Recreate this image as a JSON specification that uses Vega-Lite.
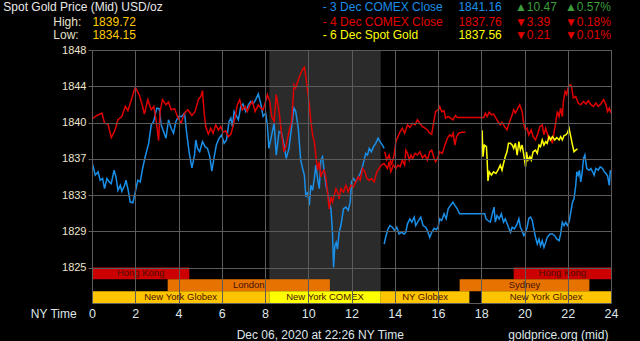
{
"$schema":"https://vega.github.io/schema/vega-lite/v6.json",
"width":519,"height":253,
"autosize":{"type":"none"},
"padding":{"left":92,"top":50,"right":29,"bottom":38},
"background":"#000000",
"config":{"view":{"stroke":"#5c5c5c","fill":"#000000"},"text":{"font":"Liberation Sans"},"axis":{"labelFont":"Liberation Sans"}},
"datasets":{
"sessions":[
{"session":"Hong Kong","group":"Hong Kong","start":0,"end":4.5},
{"session":"Hong Kong","group":"Hong Kong","start":19.5,"end":24},
{"session":"London","group":"London / Sydney","start":3.5,"end":11},
{"session":"Sydney","group":"London / Sydney","start":17,"end":23},
{"session":"New York Globex","group":"New York","start":0,"end":8.2},
{"session":"New York COMEX","group":"New York","start":8.2,"end":13.35},
{"session":"NY Globex","group":"New York","start":13.35,"end":17.45},
{"session":"New York Globex","group":"New York","start":18,"end":24}
],
"legend":[
{"series":"3 Dec COMEX Close","label":"- 3 Dec COMEX Close","close":"1841.16","change":"▲10.47","pct":"▲0.57%","dir":"up"},
{"series":"4 Dec COMEX Close","label":"- 4 Dec COMEX Close","close":"1837.76","change":"▼3.39","pct":"▼0.18%","dir":"down"},
{"series":"6 Dec Spot Gold","label":"- 6 Dec Spot Gold","close":"1837.56","change":"▼0.21","pct":"▼0.01%","dir":"down"}
],
"stats":[{"stat":"High:","value":"1839.72"},{"stat":"Low:","value":"1834.15"}],
"prices":[
{"series":"3 Dec COMEX Close","seg":"3a","hour":0.03,"price":1835.9},
{"series":"3 Dec COMEX Close","seg":"3a","hour":0.15,"price":1834.76},
{"series":"3 Dec COMEX Close","seg":"3a","hour":0.28,"price":1835.12},
{"series":"3 Dec COMEX Close","seg":"3a","hour":0.38,"price":1834.23},
{"series":"3 Dec COMEX Close","seg":"3a","hour":0.49,"price":1834.4},
{"series":"3 Dec COMEX Close","seg":"3a","hour":0.58,"price":1833.34},
{"series":"3 Dec COMEX Close","seg":"3a","hour":0.69,"price":1834.4},
{"series":"3 Dec COMEX Close","seg":"3a","hour":0.8,"price":1834.05},
{"series":"3 Dec COMEX Close","seg":"3a","hour":0.89,"price":1833.87},
{"series":"3 Dec COMEX Close","seg":"3a","hour":1.02,"price":1835.3},
{"series":"3 Dec COMEX Close","seg":"3a","hour":1.11,"price":1834.58},
{"series":"3 Dec COMEX Close","seg":"3a","hour":1.2,"price":1833.16},
{"series":"3 Dec COMEX Close","seg":"3a","hour":1.31,"price":1833.7},
{"series":"3 Dec COMEX Close","seg":"3a","hour":1.38,"price":1833.06},
{"series":"3 Dec COMEX Close","seg":"3a","hour":1.51,"price":1833.7},
{"series":"3 Dec COMEX Close","seg":"3a","hour":1.57,"price":1834.23},
{"series":"3 Dec COMEX Close","seg":"3a","hour":1.66,"price":1833.34},
{"series":"3 Dec COMEX Close","seg":"3a","hour":1.77,"price":1831.92},
{"series":"3 Dec COMEX Close","seg":"3a","hour":1.89,"price":1831.85},
{"series":"3 Dec COMEX Close","seg":"3a","hour":2.0,"price":1832.99},
{"series":"3 Dec COMEX Close","seg":"3a","hour":2.12,"price":1834.23},
{"series":"3 Dec COMEX Close","seg":"3a","hour":2.23,"price":1834.05},
{"series":"3 Dec COMEX Close","seg":"3a","hour":2.34,"price":1835.47},
{"series":"3 Dec COMEX Close","seg":"3a","hour":2.46,"price":1836.71},
{"series":"3 Dec COMEX Close","seg":"3a","hour":2.62,"price":1838.13},
{"series":"3 Dec COMEX Close","seg":"3a","hour":2.74,"price":1840.09},
{"series":"3 Dec COMEX Close","seg":"3a","hour":2.85,"price":1840.44},
{"series":"3 Dec COMEX Close","seg":"3a","hour":2.92,"price":1841.15},
{"series":"3 Dec COMEX Close","seg":"3a","hour":3.0,"price":1841.86},
{"series":"3 Dec COMEX Close","seg":"3a","hour":3.11,"price":1841.79},
{"series":"3 Dec COMEX Close","seg":"3a","hour":3.2,"price":1840.09},
{"series":"3 Dec COMEX Close","seg":"3a","hour":3.31,"price":1839.38},
{"series":"3 Dec COMEX Close","seg":"3a","hour":3.42,"price":1838.67},
{"series":"3 Dec COMEX Close","seg":"3a","hour":3.54,"price":1840.62},
{"series":"3 Dec COMEX Close","seg":"3a","hour":3.66,"price":1839.73},
{"series":"3 Dec COMEX Close","seg":"3a","hour":3.77,"price":1839.2},
{"series":"3 Dec COMEX Close","seg":"3a","hour":3.88,"price":1840.44},
{"series":"3 Dec COMEX Close","seg":"3a","hour":4.0,"price":1840.97},
{"series":"3 Dec COMEX Close","seg":"3a","hour":4.15,"price":1840.97},
{"series":"3 Dec COMEX Close","seg":"3a","hour":4.28,"price":1841.33},
{"series":"3 Dec COMEX Close","seg":"3a","hour":4.38,"price":1839.2},
{"series":"3 Dec COMEX Close","seg":"3a","hour":4.49,"price":1837.24},
{"series":"3 Dec COMEX Close","seg":"3a","hour":4.62,"price":1835.54},
{"series":"3 Dec COMEX Close","seg":"3a","hour":4.74,"price":1836.89},
{"series":"3 Dec COMEX Close","seg":"3a","hour":4.8,"price":1838.49},
{"series":"3 Dec COMEX Close","seg":"3a","hour":4.88,"price":1837.6},
{"series":"3 Dec COMEX Close","seg":"3a","hour":4.98,"price":1837.24},
{"series":"3 Dec COMEX Close","seg":"3a","hour":5.11,"price":1838.31},
{"series":"3 Dec COMEX Close","seg":"3a","hour":5.23,"price":1837.78},
{"series":"3 Dec COMEX Close","seg":"3a","hour":5.34,"price":1837.6},
{"series":"3 Dec COMEX Close","seg":"3a","hour":5.45,"price":1836.71},
{"series":"3 Dec COMEX Close","seg":"3a","hour":5.54,"price":1835.19},
{"series":"3 Dec COMEX Close","seg":"3a","hour":5.65,"price":1836.71},
{"series":"3 Dec COMEX Close","seg":"3a","hour":5.75,"price":1837.95},
{"series":"3 Dec COMEX Close","seg":"3a","hour":5.88,"price":1838.67},
{"series":"3 Dec COMEX Close","seg":"3a","hour":6.0,"price":1839.02},
{"series":"3 Dec COMEX Close","seg":"3a","hour":6.11,"price":1838.13},
{"series":"3 Dec COMEX Close","seg":"3a","hour":6.22,"price":1838.49},
{"series":"3 Dec COMEX Close","seg":"3a","hour":6.34,"price":1840.44},
{"series":"3 Dec COMEX Close","seg":"3a","hour":6.42,"price":1840.8},
{"series":"3 Dec COMEX Close","seg":"3a","hour":6.49,"price":1839.9},
{"series":"3 Dec COMEX Close","seg":"3a","hour":6.57,"price":1841.5},
{"series":"3 Dec COMEX Close","seg":"3a","hour":6.65,"price":1841.15},
{"series":"3 Dec COMEX Close","seg":"3a","hour":6.77,"price":1840.62},
{"series":"3 Dec COMEX Close","seg":"3a","hour":6.88,"price":1842.04},
{"series":"3 Dec COMEX Close","seg":"3a","hour":6.98,"price":1842.29},
{"series":"3 Dec COMEX Close","seg":"3a","hour":7.11,"price":1841.5},
{"series":"3 Dec COMEX Close","seg":"3a","hour":7.23,"price":1842.2},
{"series":"3 Dec COMEX Close","seg":"3a","hour":7.34,"price":1842.57},
{"series":"3 Dec COMEX Close","seg":"3a","hour":7.45,"price":1842.29},
{"series":"3 Dec COMEX Close","seg":"3a","hour":7.57,"price":1842.75},
{"series":"3 Dec COMEX Close","seg":"3a","hour":7.69,"price":1843.35},
{"series":"3 Dec COMEX Close","seg":"3a","hour":7.8,"price":1842.39},
{"series":"3 Dec COMEX Close","seg":"3a","hour":7.91,"price":1840.97},
{"series":"3 Dec COMEX Close","seg":"3a","hour":8.03,"price":1841.33},
{"series":"3 Dec COMEX Close","seg":"3a","hour":8.11,"price":1840.09},
{"series":"3 Dec COMEX Close","seg":"3a","hour":8.18,"price":1837.6},
{"series":"3 Dec COMEX Close","seg":"3a","hour":8.31,"price":1839.02},
{"series":"3 Dec COMEX Close","seg":"3a","hour":8.42,"price":1840.26},
{"series":"3 Dec COMEX Close","seg":"3a","hour":8.52,"price":1836.89},
{"series":"3 Dec COMEX Close","seg":"3a","hour":8.65,"price":1839.38},
{"series":"3 Dec COMEX Close","seg":"3a","hour":8.77,"price":1839.2},
{"series":"3 Dec COMEX Close","seg":"3a","hour":8.88,"price":1837.95},
{"series":"3 Dec COMEX Close","seg":"3a","hour":8.98,"price":1836.53},
{"series":"3 Dec COMEX Close","seg":"3a","hour":9.11,"price":1837.6},
{"series":"3 Dec COMEX Close","seg":"3a","hour":9.23,"price":1839.9},
{"series":"3 Dec COMEX Close","seg":"3a","hour":9.34,"price":1841.86},
{"series":"3 Dec COMEX Close","seg":"3a","hour":9.42,"price":1841.5},
{"series":"3 Dec COMEX Close","seg":"3a","hour":9.54,"price":1839.73},
{"series":"3 Dec COMEX Close","seg":"3a","hour":9.65,"price":1836.36},
{"series":"3 Dec COMEX Close","seg":"3a","hour":9.74,"price":1835.47},
{"series":"3 Dec COMEX Close","seg":"3a","hour":9.82,"price":1834.76},
{"series":"3 Dec COMEX Close","seg":"3a","hour":9.89,"price":1832.45},
{"series":"3 Dec COMEX Close","seg":"3a","hour":9.97,"price":1832.99},
{"series":"3 Dec COMEX Close","seg":"3a","hour":10.05,"price":1831.57},
{"series":"3 Dec COMEX Close","seg":"3a","hour":10.12,"price":1833.7},
{"series":"3 Dec COMEX Close","seg":"3a","hour":10.2,"price":1833.16},
{"series":"3 Dec COMEX Close","seg":"3a","hour":10.28,"price":1834.4},
{"series":"3 Dec COMEX Close","seg":"3a","hour":10.35,"price":1835.83},
{"series":"3 Dec COMEX Close","seg":"3a","hour":10.43,"price":1834.4},
{"series":"3 Dec COMEX Close","seg":"3a","hour":10.51,"price":1833.34},
{"series":"3 Dec COMEX Close","seg":"3a","hour":10.58,"price":1836.36},
{"series":"3 Dec COMEX Close","seg":"3a","hour":10.66,"price":1836.71},
{"series":"3 Dec COMEX Close","seg":"3a","hour":10.74,"price":1835.12},
{"series":"3 Dec COMEX Close","seg":"3a","hour":10.82,"price":1833.7},
{"series":"3 Dec COMEX Close","seg":"3a","hour":10.89,"price":1832.99},
{"series":"3 Dec COMEX Close","seg":"3a","hour":10.97,"price":1831.92},
{"series":"3 Dec COMEX Close","seg":"3a","hour":11.05,"price":1831.21},
{"series":"3 Dec COMEX Close","seg":"3a","hour":11.12,"price":1828.73},
{"series":"3 Dec COMEX Close","seg":"3a","hour":11.17,"price":1825.0},
{"series":"3 Dec COMEX Close","seg":"3a","hour":11.23,"price":1827.31},
{"series":"3 Dec COMEX Close","seg":"3a","hour":11.29,"price":1827.66},
{"series":"3 Dec COMEX Close","seg":"3a","hour":11.35,"price":1826.95},
{"series":"3 Dec COMEX Close","seg":"3a","hour":11.43,"price":1828.73},
{"series":"3 Dec COMEX Close","seg":"3a","hour":11.51,"price":1829.44},
{"series":"3 Dec COMEX Close","seg":"3a","hour":11.63,"price":1831.21},
{"series":"3 Dec COMEX Close","seg":"3a","hour":11.74,"price":1831.39},
{"series":"3 Dec COMEX Close","seg":"3a","hour":11.85,"price":1831.04},
{"series":"3 Dec COMEX Close","seg":"3a","hour":11.94,"price":1831.92},
{"series":"3 Dec COMEX Close","seg":"3a","hour":12.0,"price":1834.05},
{"series":"3 Dec COMEX Close","seg":"3a","hour":12.09,"price":1834.4},
{"series":"3 Dec COMEX Close","seg":"3a","hour":12.2,"price":1834.05},
{"series":"3 Dec COMEX Close","seg":"3a","hour":12.31,"price":1834.58},
{"series":"3 Dec COMEX Close","seg":"3a","hour":12.4,"price":1834.94},
{"series":"3 Dec COMEX Close","seg":"3a","hour":12.51,"price":1835.65},
{"series":"3 Dec COMEX Close","seg":"3a","hour":12.58,"price":1836.36},
{"series":"3 Dec COMEX Close","seg":"3a","hour":12.66,"price":1837.07},
{"series":"3 Dec COMEX Close","seg":"3a","hour":12.74,"price":1836.89},
{"series":"3 Dec COMEX Close","seg":"3a","hour":12.82,"price":1837.6},
{"series":"3 Dec COMEX Close","seg":"3a","hour":12.92,"price":1837.24},
{"series":"3 Dec COMEX Close","seg":"3a","hour":13.02,"price":1837.78},
{"series":"3 Dec COMEX Close","seg":"3a","hour":13.12,"price":1838.13},
{"series":"3 Dec COMEX Close","seg":"3a","hour":13.23,"price":1838.67},
{"series":"3 Dec COMEX Close","seg":"3a","hour":13.32,"price":1838.31},
{"series":"3 Dec COMEX Close","seg":"3a","hour":13.43,"price":1837.95},
{"series":"3 Dec COMEX Close","seg":"3a","hour":13.51,"price":1837.6},
{"series":"3 Dec COMEX Close","seg":"3b","hour":13.51,"price":1827.49},
{"series":"3 Dec COMEX Close","seg":"3b","hour":13.58,"price":1828.2},
{"series":"3 Dec COMEX Close","seg":"3b","hour":13.69,"price":1829.09},
{"series":"3 Dec COMEX Close","seg":"3b","hour":13.78,"price":1829.44},
{"series":"3 Dec COMEX Close","seg":"3b","hour":13.89,"price":1829.26},
{"series":"3 Dec COMEX Close","seg":"3b","hour":14.0,"price":1828.9},
{"series":"3 Dec COMEX Close","seg":"3b","hour":14.09,"price":1829.26},
{"series":"3 Dec COMEX Close","seg":"3b","hour":14.2,"price":1828.55},
{"series":"3 Dec COMEX Close","seg":"3b","hour":14.31,"price":1828.73},
{"series":"3 Dec COMEX Close","seg":"3b","hour":14.43,"price":1828.55},
{"series":"3 Dec COMEX Close","seg":"3b","hour":14.51,"price":1828.73},
{"series":"3 Dec COMEX Close","seg":"3b","hour":14.59,"price":1829.62},
{"series":"3 Dec COMEX Close","seg":"3b","hour":14.7,"price":1830.15},
{"series":"3 Dec COMEX Close","seg":"3b","hour":14.79,"price":1829.8},
{"series":"3 Dec COMEX Close","seg":"3b","hour":14.9,"price":1830.33},
{"series":"3 Dec COMEX Close","seg":"3b","hour":14.97,"price":1829.44},
{"series":"3 Dec COMEX Close","seg":"3b","hour":15.1,"price":1829.97},
{"series":"3 Dec COMEX Close","seg":"3b","hour":15.2,"price":1830.33},
{"series":"3 Dec COMEX Close","seg":"3b","hour":15.31,"price":1829.44},
{"series":"3 Dec COMEX Close","seg":"3b","hour":15.43,"price":1829.26},
{"series":"3 Dec COMEX Close","seg":"3b","hour":15.51,"price":1828.9},
{"series":"3 Dec COMEX Close","seg":"3b","hour":15.62,"price":1828.2},
{"series":"3 Dec COMEX Close","seg":"3b","hour":15.71,"price":1828.73},
{"series":"3 Dec COMEX Close","seg":"3b","hour":15.82,"price":1829.15},
{"series":"3 Dec COMEX Close","seg":"3b","hour":15.92,"price":1829.0},
{"series":"3 Dec COMEX Close","seg":"3b","hour":16.0,"price":1829.26},
{"series":"3 Dec COMEX Close","seg":"3b","hour":16.08,"price":1830.15},
{"series":"3 Dec COMEX Close","seg":"3b","hour":16.17,"price":1829.97},
{"series":"3 Dec COMEX Close","seg":"3b","hour":16.28,"price":1830.68},
{"series":"3 Dec COMEX Close","seg":"3b","hour":16.38,"price":1830.15},
{"series":"3 Dec COMEX Close","seg":"3b","hour":16.47,"price":1831.21},
{"series":"3 Dec COMEX Close","seg":"3b","hour":16.58,"price":1831.57},
{"series":"3 Dec COMEX Close","seg":"3b","hour":16.69,"price":1831.92},
{"series":"3 Dec COMEX Close","seg":"3b","hour":16.78,"price":1831.57},
{"series":"3 Dec COMEX Close","seg":"3b","hour":16.89,"price":1831.21},
{"series":"3 Dec COMEX Close","seg":"3b","hour":17.0,"price":1830.68},
{"series":"3 Dec COMEX Close","seg":"3b","hour":18.16,"price":1830.68},
{"series":"3 Dec COMEX Close","seg":"3b","hour":18.22,"price":1830.15},
{"series":"3 Dec COMEX Close","seg":"3b","hour":18.31,"price":1829.97},
{"series":"3 Dec COMEX Close","seg":"3b","hour":18.42,"price":1829.8},
{"series":"3 Dec COMEX Close","seg":"3b","hour":18.53,"price":1830.86},
{"series":"3 Dec COMEX Close","seg":"3b","hour":18.59,"price":1831.39},
{"series":"3 Dec COMEX Close","seg":"3b","hour":18.65,"price":1829.8},
{"series":"3 Dec COMEX Close","seg":"3b","hour":18.73,"price":1830.5},
{"series":"3 Dec COMEX Close","seg":"3b","hour":18.83,"price":1830.15},
{"series":"3 Dec COMEX Close","seg":"3b","hour":18.93,"price":1830.68},
{"series":"3 Dec COMEX Close","seg":"3b","hour":19.03,"price":1829.8},
{"series":"3 Dec COMEX Close","seg":"3b","hour":19.11,"price":1830.15},
{"series":"3 Dec COMEX Close","seg":"3b","hour":19.23,"price":1829.44},
{"series":"3 Dec COMEX Close","seg":"3b","hour":19.35,"price":1828.73},
{"series":"3 Dec COMEX Close","seg":"3b","hour":19.43,"price":1829.26},
{"series":"3 Dec COMEX Close","seg":"3b","hour":19.53,"price":1829.09},
{"series":"3 Dec COMEX Close","seg":"3b","hour":19.66,"price":1829.62},
{"series":"3 Dec COMEX Close","seg":"3b","hour":19.74,"price":1830.15},
{"series":"3 Dec COMEX Close","seg":"3b","hour":19.81,"price":1829.26},
{"series":"3 Dec COMEX Close","seg":"3b","hour":19.89,"price":1828.9},
{"series":"3 Dec COMEX Close","seg":"3b","hour":19.97,"price":1828.37},
{"series":"3 Dec COMEX Close","seg":"3b","hour":20.05,"price":1828.73},
{"series":"3 Dec COMEX Close","seg":"3b","hour":20.12,"price":1829.26},
{"series":"3 Dec COMEX Close","seg":"3b","hour":20.2,"price":1830.22},
{"series":"3 Dec COMEX Close","seg":"3b","hour":20.28,"price":1830.33},
{"series":"3 Dec COMEX Close","seg":"3b","hour":20.36,"price":1829.97},
{"series":"3 Dec COMEX Close","seg":"3b","hour":20.43,"price":1829.09},
{"series":"3 Dec COMEX Close","seg":"3b","hour":20.51,"price":1828.2},
{"series":"3 Dec COMEX Close","seg":"3b","hour":20.59,"price":1827.49},
{"series":"3 Dec COMEX Close","seg":"3b","hour":20.67,"price":1828.02},
{"series":"3 Dec COMEX Close","seg":"3b","hour":20.74,"price":1827.31},
{"series":"3 Dec COMEX Close","seg":"3b","hour":20.82,"price":1827.84},
{"series":"3 Dec COMEX Close","seg":"3b","hour":20.9,"price":1827.13},
{"series":"3 Dec COMEX Close","seg":"3b","hour":20.98,"price":1827.66},
{"series":"3 Dec COMEX Close","seg":"3b","hour":21.05,"price":1828.2},
{"series":"3 Dec COMEX Close","seg":"3b","hour":21.18,"price":1828.55},
{"series":"3 Dec COMEX Close","seg":"3b","hour":21.29,"price":1828.55},
{"series":"3 Dec COMEX Close","seg":"3b","hour":21.4,"price":1828.37},
{"series":"3 Dec COMEX Close","seg":"3b","hour":21.49,"price":1828.02},
{"series":"3 Dec COMEX Close","seg":"3b","hour":21.6,"price":1827.84},
{"series":"3 Dec COMEX Close","seg":"3b","hour":21.67,"price":1828.55},
{"series":"3 Dec COMEX Close","seg":"3b","hour":21.75,"price":1829.8},
{"series":"3 Dec COMEX Close","seg":"3b","hour":21.83,"price":1829.44},
{"series":"3 Dec COMEX Close","seg":"3b","hour":21.91,"price":1829.8},
{"series":"3 Dec COMEX Close","seg":"3b","hour":21.98,"price":1829.44},
{"series":"3 Dec COMEX Close","seg":"3b","hour":22.06,"price":1829.8},
{"series":"3 Dec COMEX Close","seg":"3b","hour":22.14,"price":1830.86},
{"series":"3 Dec COMEX Close","seg":"3b","hour":22.22,"price":1831.92},
{"series":"3 Dec COMEX Close","seg":"3b","hour":22.29,"price":1832.27},
{"series":"3 Dec COMEX Close","seg":"3b","hour":22.37,"price":1833.7},
{"series":"3 Dec COMEX Close","seg":"3b","hour":22.42,"price":1835.12},
{"series":"3 Dec COMEX Close","seg":"3b","hour":22.48,"price":1834.76},
{"series":"3 Dec COMEX Close","seg":"3b","hour":22.54,"price":1835.29},
{"series":"3 Dec COMEX Close","seg":"3b","hour":22.6,"price":1834.05},
{"series":"3 Dec COMEX Close","seg":"3b","hour":22.67,"price":1835.12},
{"series":"3 Dec COMEX Close","seg":"3b","hour":22.73,"price":1836.53},
{"series":"3 Dec COMEX Close","seg":"3b","hour":22.79,"price":1836.89},
{"series":"3 Dec COMEX Close","seg":"3b","hour":22.88,"price":1835.47},
{"series":"3 Dec COMEX Close","seg":"3b","hour":22.99,"price":1835.29},
{"series":"3 Dec COMEX Close","seg":"3b","hour":23.07,"price":1835.47},
{"series":"3 Dec COMEX Close","seg":"3b","hour":23.15,"price":1835.12},
{"series":"3 Dec COMEX Close","seg":"3b","hour":23.22,"price":1834.76},
{"series":"3 Dec COMEX Close","seg":"3b","hour":23.3,"price":1835.47},
{"series":"3 Dec COMEX Close","seg":"3b","hour":23.41,"price":1835.29},
{"series":"3 Dec COMEX Close","seg":"3b","hour":23.5,"price":1835.65},
{"series":"3 Dec COMEX Close","seg":"3b","hour":23.61,"price":1835.47},
{"series":"3 Dec COMEX Close","seg":"3b","hour":23.69,"price":1835.12},
{"series":"3 Dec COMEX Close","seg":"3b","hour":23.77,"price":1834.94},
{"series":"3 Dec COMEX Close","seg":"3b","hour":23.84,"price":1834.69},
{"series":"3 Dec COMEX Close","seg":"3b","hour":23.92,"price":1833.7},
{"series":"3 Dec COMEX Close","seg":"3b","hour":23.97,"price":1835.29},
{"series":"3 Dec COMEX Close","seg":"3b","hour":24.0,"price":1835.12},
{"series":"4 Dec COMEX Close","seg":"4a","hour":0,"price":1840.72},
{"series":"4 Dec COMEX Close","seg":"4a","hour":0.23,"price":1841.08},
{"series":"4 Dec COMEX Close","seg":"4a","hour":0.46,"price":1841.33},
{"series":"4 Dec COMEX Close","seg":"4a","hour":0.58,"price":1840.26},
{"series":"4 Dec COMEX Close","seg":"4a","hour":0.74,"price":1840.16},
{"series":"4 Dec COMEX Close","seg":"4a","hour":0.89,"price":1838.74},
{"series":"4 Dec COMEX Close","seg":"4a","hour":1.05,"price":1839.45},
{"series":"4 Dec COMEX Close","seg":"4a","hour":1.2,"price":1840.62},
{"series":"4 Dec COMEX Close","seg":"4a","hour":1.38,"price":1840.97},
{"series":"4 Dec COMEX Close","seg":"4a","hour":1.54,"price":1842.04},
{"series":"4 Dec COMEX Close","seg":"4a","hour":1.66,"price":1841.58},
{"series":"4 Dec COMEX Close","seg":"4a","hour":1.82,"price":1842.75},
{"series":"4 Dec COMEX Close","seg":"4a","hour":2.0,"price":1844.06},
{"series":"4 Dec COMEX Close","seg":"4a","hour":2.18,"price":1843.28},
{"series":"4 Dec COMEX Close","seg":"4a","hour":2.34,"price":1842.04},
{"series":"4 Dec COMEX Close","seg":"4a","hour":2.42,"price":1841.22},
{"series":"4 Dec COMEX Close","seg":"4a","hour":2.58,"price":1842.75},
{"series":"4 Dec COMEX Close","seg":"4a","hour":2.74,"price":1841.68},
{"series":"4 Dec COMEX Close","seg":"4a","hour":2.86,"price":1842.04},
{"series":"4 Dec COMEX Close","seg":"4a","hour":2.97,"price":1840.44},
{"series":"4 Dec COMEX Close","seg":"4a","hour":3.08,"price":1838.42},
{"series":"4 Dec COMEX Close","seg":"4a","hour":3.15,"price":1841.5},
{"series":"4 Dec COMEX Close","seg":"4a","hour":3.26,"price":1842.75},
{"series":"4 Dec COMEX Close","seg":"4a","hour":3.42,"price":1842.2},
{"series":"4 Dec COMEX Close","seg":"4a","hour":3.54,"price":1842.5},
{"series":"4 Dec COMEX Close","seg":"4a","hour":3.66,"price":1841.68},
{"series":"4 Dec COMEX Close","seg":"4a","hour":3.82,"price":1841.8},
{"series":"4 Dec COMEX Close","seg":"4a","hour":3.97,"price":1840.87},
{"series":"4 Dec COMEX Close","seg":"4a","hour":4.12,"price":1840.26},
{"series":"4 Dec COMEX Close","seg":"4a","hour":4.28,"price":1841.33},
{"series":"4 Dec COMEX Close","seg":"4a","hour":4.43,"price":1841.68},
{"series":"4 Dec COMEX Close","seg":"4a","hour":4.62,"price":1841.08},
{"series":"4 Dec COMEX Close","seg":"4a","hour":4.77,"price":1841.5},
{"series":"4 Dec COMEX Close","seg":"4a","hour":4.92,"price":1842.75},
{"series":"4 Dec COMEX Close","seg":"4a","hour":5.03,"price":1843.1},
{"series":"4 Dec COMEX Close","seg":"4a","hour":5.11,"price":1843.7},
{"series":"4 Dec COMEX Close","seg":"4a","hour":5.18,"price":1841.5},
{"series":"4 Dec COMEX Close","seg":"4a","hour":5.26,"price":1839.9},
{"series":"4 Dec COMEX Close","seg":"4a","hour":5.38,"price":1839.1},
{"series":"4 Dec COMEX Close","seg":"4a","hour":5.49,"price":1839.73},
{"series":"4 Dec COMEX Close","seg":"4a","hour":5.6,"price":1839.2},
{"series":"4 Dec COMEX Close","seg":"4a","hour":5.72,"price":1840.09},
{"series":"4 Dec COMEX Close","seg":"4a","hour":5.85,"price":1839.55},
{"series":"4 Dec COMEX Close","seg":"4a","hour":5.95,"price":1839.9},
{"series":"4 Dec COMEX Close","seg":"4a","hour":6.06,"price":1839.3},
{"series":"4 Dec COMEX Close","seg":"4a","hour":6.18,"price":1839.45},
{"series":"4 Dec COMEX Close","seg":"4a","hour":6.31,"price":1838.84},
{"series":"4 Dec COMEX Close","seg":"4a","hour":6.42,"price":1839.1},
{"series":"4 Dec COMEX Close","seg":"4a","hour":6.52,"price":1839.9},
{"series":"4 Dec COMEX Close","seg":"4a","hour":6.62,"price":1840.97},
{"series":"4 Dec COMEX Close","seg":"4a","hour":6.72,"price":1842.2},
{"series":"4 Dec COMEX Close","seg":"4a","hour":6.83,"price":1842.75},
{"series":"4 Dec COMEX Close","seg":"4a","hour":6.95,"price":1841.68},
{"series":"4 Dec COMEX Close","seg":"4a","hour":7.08,"price":1842.04},
{"series":"4 Dec COMEX Close","seg":"4a","hour":7.18,"price":1841.5},
{"series":"4 Dec COMEX Close","seg":"4a","hour":7.29,"price":1842.14},
{"series":"4 Dec COMEX Close","seg":"4a","hour":7.42,"price":1842.57},
{"series":"4 Dec COMEX Close","seg":"4a","hour":7.54,"price":1841.5},
{"series":"4 Dec COMEX Close","seg":"4a","hour":7.69,"price":1842.2},
{"series":"4 Dec COMEX Close","seg":"4a","hour":7.8,"price":1841.86},
{"series":"4 Dec COMEX Close","seg":"4a","hour":7.91,"price":1841.68},
{"series":"4 Dec COMEX Close","seg":"4a","hour":8.03,"price":1842.57},
{"series":"4 Dec COMEX Close","seg":"4a","hour":8.11,"price":1843.28},
{"series":"4 Dec COMEX Close","seg":"4a","hour":8.22,"price":1842.57},
{"series":"4 Dec COMEX Close","seg":"4a","hour":8.31,"price":1840.97},
{"series":"4 Dec COMEX Close","seg":"4a","hour":8.42,"price":1840.44},
{"series":"4 Dec COMEX Close","seg":"4a","hour":8.52,"price":1843.28},
{"series":"4 Dec COMEX Close","seg":"4a","hour":8.65,"price":1841.5},
{"series":"4 Dec COMEX Close","seg":"4a","hour":8.77,"price":1839.02},
{"series":"4 Dec COMEX Close","seg":"4a","hour":8.88,"price":1837.24},
{"series":"4 Dec COMEX Close","seg":"4a","hour":8.98,"price":1837.95},
{"series":"4 Dec COMEX Close","seg":"4a","hour":9.11,"price":1839.38},
{"series":"4 Dec COMEX Close","seg":"4a","hour":9.23,"price":1840.44},
{"series":"4 Dec COMEX Close","seg":"4a","hour":9.34,"price":1844.34},
{"series":"4 Dec COMEX Close","seg":"4a","hour":9.42,"price":1843.99},
{"series":"4 Dec COMEX Close","seg":"4a","hour":9.49,"price":1844.52},
{"series":"4 Dec COMEX Close","seg":"4a","hour":9.6,"price":1845.23},
{"series":"4 Dec COMEX Close","seg":"4a","hour":9.74,"price":1845.94},
{"series":"4 Dec COMEX Close","seg":"4a","hour":9.82,"price":1846.19},
{"series":"4 Dec COMEX Close","seg":"4a","hour":9.89,"price":1845.23},
{"series":"4 Dec COMEX Close","seg":"4a","hour":9.97,"price":1843.63},
{"series":"4 Dec COMEX Close","seg":"4a","hour":10.05,"price":1842.21},
{"series":"4 Dec COMEX Close","seg":"4a","hour":10.12,"price":1840.44},
{"series":"4 Dec COMEX Close","seg":"4a","hour":10.2,"price":1839.02},
{"series":"4 Dec COMEX Close","seg":"4a","hour":10.28,"price":1838.31},
{"series":"4 Dec COMEX Close","seg":"4a","hour":10.35,"price":1836.89},
{"series":"4 Dec COMEX Close","seg":"4a","hour":10.43,"price":1835.29},
{"series":"4 Dec COMEX Close","seg":"4a","hour":10.51,"price":1836.18},
{"series":"4 Dec COMEX Close","seg":"4a","hour":10.58,"price":1834.58},
{"series":"4 Dec COMEX Close","seg":"4a","hour":10.66,"price":1835.12},
{"series":"4 Dec COMEX Close","seg":"4a","hour":10.74,"price":1835.29},
{"series":"4 Dec COMEX Close","seg":"4a","hour":10.82,"price":1834.4},
{"series":"4 Dec COMEX Close","seg":"4a","hour":10.89,"price":1832.99},
{"series":"4 Dec COMEX Close","seg":"4a","hour":10.97,"price":1831.21},
{"series":"4 Dec COMEX Close","seg":"4a","hour":11.05,"price":1832.45},
{"series":"4 Dec COMEX Close","seg":"4a","hour":11.12,"price":1831.92},
{"series":"4 Dec COMEX Close","seg":"4a","hour":11.2,"price":1832.63},
{"series":"4 Dec COMEX Close","seg":"4a","hour":11.28,"price":1833.34},
{"series":"4 Dec COMEX Close","seg":"4a","hour":11.35,"price":1832.99},
{"series":"4 Dec COMEX Close","seg":"4a","hour":11.43,"price":1832.27},
{"series":"4 Dec COMEX Close","seg":"4a","hour":11.51,"price":1833.34},
{"series":"4 Dec COMEX Close","seg":"4a","hour":11.63,"price":1832.99},
{"series":"4 Dec COMEX Close","seg":"4a","hour":11.74,"price":1833.7},
{"series":"4 Dec COMEX Close","seg":"4a","hour":11.85,"price":1832.99},
{"series":"4 Dec COMEX Close","seg":"4a","hour":11.97,"price":1833.7},
{"series":"4 Dec COMEX Close","seg":"4a","hour":12.09,"price":1833.52},
{"series":"4 Dec COMEX Close","seg":"4a","hour":12.2,"price":1834.05},
{"series":"4 Dec COMEX Close","seg":"4a","hour":12.31,"price":1834.58},
{"series":"4 Dec COMEX Close","seg":"4a","hour":12.4,"price":1834.23},
{"series":"4 Dec COMEX Close","seg":"4a","hour":12.51,"price":1835.47},
{"series":"4 Dec COMEX Close","seg":"4a","hour":12.62,"price":1835.12},
{"series":"4 Dec COMEX Close","seg":"4a","hour":12.71,"price":1834.4},
{"series":"4 Dec COMEX Close","seg":"4a","hour":12.82,"price":1834.23},
{"series":"4 Dec COMEX Close","seg":"4a","hour":12.92,"price":1834.4},
{"series":"4 Dec COMEX Close","seg":"4a","hour":13.05,"price":1834.05},
{"series":"4 Dec COMEX Close","seg":"4a","hour":13.17,"price":1835.12},
{"series":"4 Dec COMEX Close","seg":"4a","hour":13.28,"price":1835.47},
{"series":"4 Dec COMEX Close","seg":"4a","hour":13.38,"price":1835.83},
{"series":"4 Dec COMEX Close","seg":"4a","hour":13.51,"price":1836.0},
{"series":"4 Dec COMEX Close","seg":"4a","hour":13.66,"price":1835.47},
{"series":"4 Dec COMEX Close","seg":"4a","hour":13.74,"price":1836.18},
{"series":"4 Dec COMEX Close","seg":"4a","hour":13.82,"price":1835.12},
{"series":"4 Dec COMEX Close","seg":"4a","hour":13.94,"price":1835.83},
{"series":"4 Dec COMEX Close","seg":"4a","hour":14.05,"price":1835.47},
{"series":"4 Dec COMEX Close","seg":"4a","hour":14.15,"price":1835.83},
{"series":"4 Dec COMEX Close","seg":"4a","hour":14.25,"price":1835.65},
{"series":"4 Dec COMEX Close","seg":"4a","hour":14.35,"price":1836.36},
{"series":"4 Dec COMEX Close","seg":"4a","hour":14.46,"price":1835.83},
{"series":"4 Dec COMEX Close","seg":"4a","hour":14.51,"price":1837.42},
{"series":"4 Dec COMEX Close","seg":"4a","hour":14.59,"price":1837.07},
{"series":"4 Dec COMEX Close","seg":"4a","hour":14.67,"price":1836.36},
{"series":"4 Dec COMEX Close","seg":"4a","hour":14.75,"price":1836.89},
{"series":"4 Dec COMEX Close","seg":"4a","hour":14.82,"price":1836.53},
{"series":"4 Dec COMEX Close","seg":"4a","hour":14.94,"price":1837.07},
{"series":"4 Dec COMEX Close","seg":"4a","hour":15.05,"price":1836.89},
{"series":"4 Dec COMEX Close","seg":"4a","hour":15.16,"price":1837.24},
{"series":"4 Dec COMEX Close","seg":"4a","hour":15.28,"price":1836.6},
{"series":"4 Dec COMEX Close","seg":"4a","hour":15.4,"price":1836.89},
{"series":"4 Dec COMEX Close","seg":"4a","hour":15.51,"price":1836.36},
{"series":"4 Dec COMEX Close","seg":"4a","hour":15.62,"price":1837.24},
{"series":"4 Dec COMEX Close","seg":"4a","hour":15.71,"price":1837.42},
{"series":"4 Dec COMEX Close","seg":"4a","hour":15.82,"price":1836.53},
{"series":"4 Dec COMEX Close","seg":"4a","hour":15.89,"price":1836.18},
{"series":"4 Dec COMEX Close","seg":"4a","hour":16.0,"price":1836.71},
{"series":"4 Dec COMEX Close","seg":"4a","hour":16.08,"price":1837.24},
{"series":"4 Dec COMEX Close","seg":"4a","hour":16.2,"price":1837.07},
{"series":"4 Dec COMEX Close","seg":"4a","hour":16.32,"price":1837.95},
{"series":"4 Dec COMEX Close","seg":"4a","hour":16.43,"price":1838.67},
{"series":"4 Dec COMEX Close","seg":"4a","hour":16.54,"price":1839.02},
{"series":"4 Dec COMEX Close","seg":"4a","hour":16.63,"price":1838.84},
{"series":"4 Dec COMEX Close","seg":"4a","hour":16.7,"price":1839.2},
{"series":"4 Dec COMEX Close","seg":"4a","hour":16.78,"price":1837.95},
{"series":"4 Dec COMEX Close","seg":"4a","hour":16.86,"price":1838.84},
{"series":"4 Dec COMEX Close","seg":"4a","hour":16.96,"price":1839.2},
{"series":"4 Dec COMEX Close","seg":"4a","hour":17.09,"price":1839.3},
{"series":"4 Dec COMEX Close","seg":"4a","hour":17.27,"price":1839.3},
{"series":"4 Dec COMEX Close","seg":"4b","hour":13.54,"price":1837.24},
{"series":"4 Dec COMEX Close","seg":"4b","hour":13.63,"price":1836.36},
{"series":"4 Dec COMEX Close","seg":"4b","hour":13.74,"price":1836.89},
{"series":"4 Dec COMEX Close","seg":"4b","hour":13.85,"price":1835.83},
{"series":"4 Dec COMEX Close","seg":"4b","hour":13.97,"price":1836.89},
{"series":"4 Dec COMEX Close","seg":"4b","hour":14.05,"price":1838.31},
{"series":"4 Dec COMEX Close","seg":"4b","hour":14.15,"price":1838.84},
{"series":"4 Dec COMEX Close","seg":"4b","hour":14.25,"price":1839.38},
{"series":"4 Dec COMEX Close","seg":"4b","hour":14.35,"price":1839.73},
{"series":"4 Dec COMEX Close","seg":"4b","hour":14.46,"price":1839.2},
{"series":"4 Dec COMEX Close","seg":"4b","hour":14.59,"price":1840.09},
{"series":"4 Dec COMEX Close","seg":"4b","hour":14.7,"price":1839.8},
{"series":"4 Dec COMEX Close","seg":"4b","hour":14.82,"price":1840.26},
{"series":"4 Dec COMEX Close","seg":"4b","hour":14.94,"price":1840.09},
{"series":"4 Dec COMEX Close","seg":"4b","hour":15.05,"price":1840.62},
{"series":"4 Dec COMEX Close","seg":"4b","hour":15.16,"price":1840.26},
{"series":"4 Dec COMEX Close","seg":"4b","hour":15.28,"price":1839.9},
{"series":"4 Dec COMEX Close","seg":"4b","hour":15.4,"price":1839.73},
{"series":"4 Dec COMEX Close","seg":"4b","hour":15.51,"price":1839.55},
{"series":"4 Dec COMEX Close","seg":"4b","hour":15.62,"price":1839.2},
{"series":"4 Dec COMEX Close","seg":"4b","hour":15.71,"price":1839.1},
{"series":"4 Dec COMEX Close","seg":"4b","hour":15.82,"price":1840.62},
{"series":"4 Dec COMEX Close","seg":"4b","hour":15.89,"price":1841.5},
{"series":"4 Dec COMEX Close","seg":"4b","hour":16.0,"price":1841.68},
{"series":"4 Dec COMEX Close","seg":"4b","hour":16.08,"price":1842.04},
{"series":"4 Dec COMEX Close","seg":"4b","hour":16.17,"price":1841.5},
{"series":"4 Dec COMEX Close","seg":"4b","hour":16.28,"price":1841.58},
{"series":"4 Dec COMEX Close","seg":"4b","hour":16.35,"price":1840.8},
{"series":"4 Dec COMEX Close","seg":"4b","hour":16.47,"price":1840.97},
{"series":"4 Dec COMEX Close","seg":"4b","hour":16.58,"price":1840.8},
{"series":"4 Dec COMEX Close","seg":"4b","hour":16.69,"price":1840.62},
{"series":"4 Dec COMEX Close","seg":"4b","hour":16.81,"price":1841.08},
{"series":"4 Dec COMEX Close","seg":"4b","hour":16.89,"price":1840.87},
{"series":"4 Dec COMEX Close","seg":"4b","hour":17.0,"price":1840.87},
{"series":"4 Dec COMEX Close","seg":"4b","hour":18.12,"price":1840.87},
{"series":"4 Dec COMEX Close","seg":"4b","hour":18.19,"price":1841.33},
{"series":"4 Dec COMEX Close","seg":"4b","hour":18.27,"price":1840.97},
{"series":"4 Dec COMEX Close","seg":"4b","hour":18.37,"price":1841.43},
{"series":"4 Dec COMEX Close","seg":"4b","hour":18.47,"price":1841.15},
{"series":"4 Dec COMEX Close","seg":"4b","hour":18.57,"price":1841.22},
{"series":"4 Dec COMEX Close","seg":"4b","hour":18.68,"price":1840.8},
{"series":"4 Dec COMEX Close","seg":"4b","hour":18.77,"price":1840.44},
{"series":"4 Dec COMEX Close","seg":"4b","hour":18.88,"price":1840.09},
{"series":"4 Dec COMEX Close","seg":"4b","hour":18.96,"price":1840.37},
{"series":"4 Dec COMEX Close","seg":"4b","hour":19.08,"price":1839.9},
{"series":"4 Dec COMEX Close","seg":"4b","hour":19.19,"price":1839.55},
{"series":"4 Dec COMEX Close","seg":"4b","hour":19.26,"price":1840.09},
{"series":"4 Dec COMEX Close","seg":"4b","hour":19.43,"price":1841.15},
{"series":"4 Dec COMEX Close","seg":"4b","hour":19.5,"price":1841.68},
{"series":"4 Dec COMEX Close","seg":"4b","hour":19.58,"price":1841.33},
{"series":"4 Dec COMEX Close","seg":"4b","hour":19.69,"price":1841.86},
{"series":"4 Dec COMEX Close","seg":"4b","hour":19.78,"price":1842.21},
{"series":"4 Dec COMEX Close","seg":"4b","hour":19.89,"price":1841.5},
{"series":"4 Dec COMEX Close","seg":"4b","hour":19.97,"price":1840.09},
{"series":"4 Dec COMEX Close","seg":"4b","hour":20.05,"price":1839.55},
{"series":"4 Dec COMEX Close","seg":"4b","hour":20.12,"price":1839.73},
{"series":"4 Dec COMEX Close","seg":"4b","hour":20.2,"price":1839.02},
{"series":"4 Dec COMEX Close","seg":"4b","hour":20.31,"price":1839.55},
{"series":"4 Dec COMEX Close","seg":"4b","hour":20.4,"price":1838.84},
{"series":"4 Dec COMEX Close","seg":"4b","hour":20.51,"price":1838.49},
{"series":"4 Dec COMEX Close","seg":"4b","hour":20.62,"price":1839.2},
{"series":"4 Dec COMEX Close","seg":"4b","hour":20.71,"price":1839.9},
{"series":"4 Dec COMEX Close","seg":"4b","hour":20.82,"price":1840.09},
{"series":"4 Dec COMEX Close","seg":"4b","hour":20.9,"price":1839.02},
{"series":"4 Dec COMEX Close","seg":"4b","hour":20.98,"price":1839.73},
{"series":"4 Dec COMEX Close","seg":"4b","hour":21.05,"price":1839.2},
{"series":"4 Dec COMEX Close","seg":"4b","hour":21.13,"price":1838.49},
{"series":"4 Dec COMEX Close","seg":"4b","hour":21.21,"price":1838.67},
{"series":"4 Dec COMEX Close","seg":"4b","hour":21.29,"price":1838.13},
{"series":"4 Dec COMEX Close","seg":"4b","hour":21.36,"price":1839.2},
{"series":"4 Dec COMEX Close","seg":"4b","hour":21.44,"price":1840.26},
{"series":"4 Dec COMEX Close","seg":"4b","hour":21.52,"price":1841.5},
{"series":"4 Dec COMEX Close","seg":"4b","hour":21.6,"price":1840.97},
{"series":"4 Dec COMEX Close","seg":"4b","hour":21.67,"price":1841.86},
{"series":"4 Dec COMEX Close","seg":"4b","hour":21.75,"price":1840.97},
{"series":"4 Dec COMEX Close","seg":"4b","hour":21.8,"price":1842.57},
{"series":"4 Dec COMEX Close","seg":"4b","hour":21.88,"price":1843.63},
{"series":"4 Dec COMEX Close","seg":"4b","hour":21.95,"price":1843.28},
{"series":"4 Dec COMEX Close","seg":"4b","hour":22.02,"price":1844.06},
{"series":"4 Dec COMEX Close","seg":"4b","hour":22.11,"price":1844.34},
{"series":"4 Dec COMEX Close","seg":"4b","hour":22.17,"price":1844.17},
{"series":"4 Dec COMEX Close","seg":"4b","hour":22.26,"price":1842.92},
{"series":"4 Dec COMEX Close","seg":"4b","hour":22.37,"price":1843.1},
{"series":"4 Dec COMEX Close","seg":"4b","hour":22.48,"price":1842.39},
{"series":"4 Dec COMEX Close","seg":"4b","hour":22.6,"price":1842.21},
{"series":"4 Dec COMEX Close","seg":"4b","hour":22.73,"price":1842.57},
{"series":"4 Dec COMEX Close","seg":"4b","hour":22.84,"price":1842.29},
{"series":"4 Dec COMEX Close","seg":"4b","hour":22.95,"price":1842.64},
{"series":"4 Dec COMEX Close","seg":"4b","hour":23.07,"price":1842.21},
{"series":"4 Dec COMEX Close","seg":"4b","hour":23.19,"price":1842.04},
{"series":"4 Dec COMEX Close","seg":"4b","hour":23.3,"price":1842.39},
{"series":"4 Dec COMEX Close","seg":"4b","hour":23.41,"price":1842.04},
{"series":"4 Dec COMEX Close","seg":"4b","hour":23.53,"price":1842.29},
{"series":"4 Dec COMEX Close","seg":"4b","hour":23.66,"price":1842.75},
{"series":"4 Dec COMEX Close","seg":"4b","hour":23.77,"price":1842.21},
{"series":"4 Dec COMEX Close","seg":"4b","hour":23.84,"price":1841.5},
{"series":"4 Dec COMEX Close","seg":"4b","hour":23.92,"price":1841.86},
{"series":"4 Dec COMEX Close","seg":"4b","hour":24.0,"price":1841.33},
{"series":"6 Dec Spot Gold","seg":"6","hour":18.04,"price":1839.5},
{"series":"6 Dec Spot Gold","seg":"6","hour":18.08,"price":1836.71},
{"series":"6 Dec Spot Gold","seg":"6","hour":18.14,"price":1837.95},
{"series":"6 Dec Spot Gold","seg":"6","hour":18.24,"price":1837.78},
{"series":"6 Dec Spot Gold","seg":"6","hour":18.27,"price":1836.53},
{"series":"6 Dec Spot Gold","seg":"6","hour":18.31,"price":1834.15},
{"series":"6 Dec Spot Gold","seg":"6","hour":18.37,"price":1835.12},
{"series":"6 Dec Spot Gold","seg":"6","hour":18.47,"price":1834.76},
{"series":"6 Dec Spot Gold","seg":"6","hour":18.57,"price":1835.12},
{"series":"6 Dec Spot Gold","seg":"6","hour":18.68,"price":1834.94},
{"series":"6 Dec Spot Gold","seg":"6","hour":18.77,"price":1835.29},
{"series":"6 Dec Spot Gold","seg":"6","hour":18.88,"price":1835.83},
{"series":"6 Dec Spot Gold","seg":"6","hour":18.96,"price":1835.29},
{"series":"6 Dec Spot Gold","seg":"6","hour":19.03,"price":1836.0},
{"series":"6 Dec Spot Gold","seg":"6","hour":19.11,"price":1836.71},
{"series":"6 Dec Spot Gold","seg":"6","hour":19.19,"price":1837.24},
{"series":"6 Dec Spot Gold","seg":"6","hour":19.26,"price":1838.13},
{"series":"6 Dec Spot Gold","seg":"6","hour":19.35,"price":1838.13},
{"series":"6 Dec Spot Gold","seg":"6","hour":19.43,"price":1837.95},
{"series":"6 Dec Spot Gold","seg":"6","hour":19.5,"price":1837.6},
{"series":"6 Dec Spot Gold","seg":"6","hour":19.58,"price":1838.13},
{"series":"6 Dec Spot Gold","seg":"6","hour":19.66,"price":1836.89},
{"series":"6 Dec Spot Gold","seg":"6","hour":19.74,"price":1838.31},
{"series":"6 Dec Spot Gold","seg":"6","hour":19.81,"price":1837.42},
{"series":"6 Dec Spot Gold","seg":"6","hour":19.89,"price":1837.95},
{"series":"6 Dec Spot Gold","seg":"6","hour":19.97,"price":1836.89},
{"series":"6 Dec Spot Gold","seg":"6","hour":20.05,"price":1835.65},
{"series":"6 Dec Spot Gold","seg":"6","hour":20.09,"price":1837.24},
{"series":"6 Dec Spot Gold","seg":"6","hour":20.16,"price":1836.36},
{"series":"6 Dec Spot Gold","seg":"6","hour":20.25,"price":1836.71},
{"series":"6 Dec Spot Gold","seg":"6","hour":20.31,"price":1836.36},
{"series":"6 Dec Spot Gold","seg":"6","hour":20.4,"price":1837.24},
{"series":"6 Dec Spot Gold","seg":"6","hour":20.51,"price":1837.42},
{"series":"6 Dec Spot Gold","seg":"6","hour":20.59,"price":1837.07},
{"series":"6 Dec Spot Gold","seg":"6","hour":20.67,"price":1837.95},
{"series":"6 Dec Spot Gold","seg":"6","hour":20.74,"price":1837.78},
{"series":"6 Dec Spot Gold","seg":"6","hour":20.82,"price":1838.49},
{"series":"6 Dec Spot Gold","seg":"6","hour":20.9,"price":1837.95},
{"series":"6 Dec Spot Gold","seg":"6","hour":20.98,"price":1838.31},
{"series":"6 Dec Spot Gold","seg":"6","hour":21.05,"price":1838.13},
{"series":"6 Dec Spot Gold","seg":"6","hour":21.13,"price":1838.84},
{"series":"6 Dec Spot Gold","seg":"6","hour":21.21,"price":1838.49},
{"series":"6 Dec Spot Gold","seg":"6","hour":21.29,"price":1838.84},
{"series":"6 Dec Spot Gold","seg":"6","hour":21.4,"price":1838.49},
{"series":"6 Dec Spot Gold","seg":"6","hour":21.49,"price":1838.74},
{"series":"6 Dec Spot Gold","seg":"6","hour":21.6,"price":1838.49},
{"series":"6 Dec Spot Gold","seg":"6","hour":21.67,"price":1838.84},
{"series":"6 Dec Spot Gold","seg":"6","hour":21.75,"price":1838.49},
{"series":"6 Dec Spot Gold","seg":"6","hour":21.83,"price":1838.95},
{"series":"6 Dec Spot Gold","seg":"6","hour":21.91,"price":1839.02},
{"series":"6 Dec Spot Gold","seg":"6","hour":21.98,"price":1839.2},
{"series":"6 Dec Spot Gold","seg":"6","hour":22.06,"price":1839.72},
{"series":"6 Dec Spot Gold","seg":"6","hour":22.14,"price":1838.84},
{"series":"6 Dec Spot Gold","seg":"6","hour":22.22,"price":1837.95},
{"series":"6 Dec Spot Gold","seg":"6","hour":22.29,"price":1837.24},
{"series":"6 Dec Spot Gold","seg":"6","hour":22.37,"price":1837.42},
{"series":"6 Dec Spot Gold","seg":"6","hour":22.45,"price":1837.56}
]
},
"layer":[
{"data":{"name":"sessions"},"transform":[{"filter":"datum.session==='New York COMEX'"}],
 "mark":{"type":"rect","color":"#2b2b2b"},
 "encoding":{"x":{"field":"start","type":"quantitative","axis":{"title":null}},"x2":{"field":"end"},"y":{"datum":1848,"type":"quantitative","axis":{"title":null}},"y2":{"datum":1822.5}}},
{"data":{"name":"sessions"},"transform":[{"filter":"datum.group==='Hong Kong'"},{"calculate":"(datum.start+datum.end)/2","as":"mid"}],
 "layer":[
  {"mark":{"type":"rect"},"encoding":{"x":{"field":"start","type":"quantitative","axis":{"title":null}},"x2":{"field":"end"},"y":{"datum":1825,"type":"quantitative","axis":{"title":null}},"y2":{"datum":1823.76},"color":{"field":"session","type":"nominal","legend":null}}},
  {"mark":{"type":"text","fontSize":9.5,"color":"#4a1000","baseline":"middle"},"encoding":{"x":{"field":"mid","type":"quantitative","axis":{"title":null}},"y":{"datum":1824.38,"type":"quantitative","axis":{"title":null}},"text":{"field":"session"}}}
 ]},
{"data":{"name":"sessions"},"transform":[{"filter":"datum.group==='London / Sydney'"},{"calculate":"(datum.start+datum.end)/2","as":"mid"}],
 "layer":[
  {"mark":{"type":"rect"},"encoding":{"x":{"field":"start","type":"quantitative","axis":{"title":null}},"x2":{"field":"end"},"y":{"datum":1823.76,"type":"quantitative","axis":{"title":null}},"y2":{"datum":1822.5},"color":{"field":"session","type":"nominal","legend":null}}},
  {"mark":{"type":"text","fontSize":9.5,"color":"#4a1000","baseline":"middle"},"encoding":{"x":{"field":"mid","type":"quantitative","axis":{"title":null}},"y":{"datum":1823.13,"type":"quantitative","axis":{"title":null}},"text":{"field":"session"}}}
 ]},
{"data":{"name":"sessions"},"transform":[{"filter":"datum.group==='New York'"},{"calculate":"(datum.start+datum.end)/2","as":"mid"}],
 "layer":[
  {"mark":{"type":"rect"},"encoding":{"x":{"field":"start","type":"quantitative","axis":{"title":null}},"x2":{"field":"end"},"y":{"datum":1822.5,"type":"quantitative","axis":{"title":null}},"y2":{"datum":1821.25},"color":{"field":"session","type":"nominal","legend":null}}},
  {"mark":{"type":"text","fontSize":9.5,"color":"#4a1000","baseline":"middle"},"encoding":{"x":{"field":"mid","type":"quantitative","axis":{"title":null}},"y":{"datum":1821.875,"type":"quantitative","axis":{"title":null}},"text":{"field":"session"}}}
 ]},
{"data":{"name":"prices"},
 "mark":{"type":"line","strokeWidth":1.5,"zindex":2},
 "encoding":{
  "x":{"field":"hour","type":"quantitative","scale":{"domain":[0,24],"nice":false,"zero":false},
       "axis":{"values":[0,2,4,6,8,10,12,14,16,18,20,22,24],"format":"d","grid":true,"gridColor":"#5c5c5c","ticks":false,"domain":false,"labelColor":"#dfe6ea","labelFontSize":12.5,"labelPadding":4,"labelFlush":false,"title":null,"zindex":1}},
  "y":{"field":"price","type":"quantitative","scale":{"domain":[1821.25,1848],"nice":false,"zero":false},
       "axis":{"values":[1825,1828.8333,1832.6667,1836.5,1840.3333,1844.1667,1848],"format":".0f","grid":true,"gridColor":"#5c5c5c","ticks":true,"tickColor":"#5c5c5c","tickSize":4,"domain":false,"labelColor":"#ece4cc","labelFontSize":11,"labelPadding":2,"title":null,"zindex":1}},
  "color":{"field":"series","type":"nominal","legend":null,
       "scale":{"domain":["3 Dec COMEX Close","4 Dec COMEX Close","6 Dec Spot Gold","Hong Kong","London","Sydney","New York Globex","NY Globex","New York COMEX","up","down"],
                "range":["#1a8fe8","#e00000","#ffff00","#cc0000","#e67300","#e67300","#ffc400","#ffc400","#ffff00","#3c9e3c","#e00000"]}},
  "detail":{"field":"seg"}}},
{"data":{"values":[{}]},"mark":{"type":"text","align":"left","baseline":"middle","fontSize":12,"color":"#e8e8e8"},
 "encoding":{"x":{"datum":-4.1,"type":"quantitative","axis":{"title":null}},"y":{"datum":1852.51,"type":"quantitative","axis":{"title":null}},"text":{"value":"Spot Gold Price (Mid) USD/oz"}}},
{"data":{"name":"stats"},"transform":[{"filter":"datum.stat==='High:'"}],
 "encoding":{"y":{"datum":1850.91,"type":"quantitative","axis":{"title":null}}},
 "layer":[
  {"mark":{"type":"text","align":"left","baseline":"middle","fontSize":12,"color":"#e6e0cc"},"encoding":{"x":{"datum":-1.79,"type":"quantitative","axis":{"title":null}},"text":{"field":"stat"}}},
  {"mark":{"type":"text","align":"left","baseline":"middle","fontSize":12,"color":"#ffcc00"},"encoding":{"x":{"datum":0.02,"type":"quantitative","axis":{"title":null}},"text":{"field":"value"}}}
 ]},
{"data":{"name":"stats"},"transform":[{"filter":"datum.stat==='Low:'"}],
 "encoding":{"y":{"datum":1849.55,"type":"quantitative","axis":{"title":null}}},
 "layer":[
  {"mark":{"type":"text","align":"left","baseline":"middle","fontSize":12,"color":"#e6e0cc"},"encoding":{"x":{"datum":-1.79,"type":"quantitative","axis":{"title":null}},"text":{"field":"stat"}}},
  {"mark":{"type":"text","align":"left","baseline":"middle","fontSize":12,"color":"#ffcc00"},"encoding":{"x":{"datum":0.02,"type":"quantitative","axis":{"title":null}},"text":{"field":"value"}}}
 ]},
{"data":{"name":"legend"},"transform":[{"filter":"datum.series==='3 Dec COMEX Close'"}],
 "encoding":{"y":{"datum":1852.51,"type":"quantitative","axis":{"title":null}}},
 "layer":[
  {"mark":{"type":"text","align":"left","baseline":"middle","fontSize":12},"encoding":{"x":{"datum":10.67,"type":"quantitative","axis":{"title":null}},"text":{"field":"label"},"color":{"field":"series","type":"nominal","legend":null}}},
  {"mark":{"type":"text","align":"right","baseline":"middle","fontSize":12},"encoding":{"x":{"datum":18.95,"type":"quantitative","axis":{"title":null}},"text":{"field":"close"},"color":{"field":"series","type":"nominal","legend":null}}},
  {"mark":{"type":"text","align":"left","baseline":"middle","fontSize":12},"encoding":{"x":{"datum":19.56,"type":"quantitative","axis":{"title":null}},"text":{"field":"change"},"color":{"field":"dir","type":"nominal","legend":null}}},
  {"mark":{"type":"text","align":"left","baseline":"middle","fontSize":12},"encoding":{"x":{"datum":21.87,"type":"quantitative","axis":{"title":null}},"text":{"field":"pct"},"color":{"field":"dir","type":"nominal","legend":null}}}
 ]},
{"data":{"name":"legend"},"transform":[{"filter":"datum.series==='4 Dec COMEX Close'"}],
 "encoding":{"y":{"datum":1850.91,"type":"quantitative","axis":{"title":null}}},
 "layer":[
  {"mark":{"type":"text","align":"left","baseline":"middle","fontSize":12},"encoding":{"x":{"datum":10.67,"type":"quantitative","axis":{"title":null}},"text":{"field":"label"},"color":{"field":"series","type":"nominal","legend":null}}},
  {"mark":{"type":"text","align":"right","baseline":"middle","fontSize":12},"encoding":{"x":{"datum":18.95,"type":"quantitative","axis":{"title":null}},"text":{"field":"close"},"color":{"field":"series","type":"nominal","legend":null}}},
  {"mark":{"type":"text","align":"left","baseline":"middle","fontSize":12},"encoding":{"x":{"datum":19.56,"type":"quantitative","axis":{"title":null}},"text":{"field":"change"},"color":{"field":"dir","type":"nominal","legend":null}}},
  {"mark":{"type":"text","align":"left","baseline":"middle","fontSize":12},"encoding":{"x":{"datum":21.87,"type":"quantitative","axis":{"title":null}},"text":{"field":"pct"},"color":{"field":"dir","type":"nominal","legend":null}}}
 ]},
{"data":{"name":"legend"},"transform":[{"filter":"datum.series==='6 Dec Spot Gold'"}],
 "encoding":{"y":{"datum":1849.55,"type":"quantitative","axis":{"title":null}}},
 "layer":[
  {"mark":{"type":"text","align":"left","baseline":"middle","fontSize":12},"encoding":{"x":{"datum":10.67,"type":"quantitative","axis":{"title":null}},"text":{"field":"label"},"color":{"field":"series","type":"nominal","legend":null}}},
  {"mark":{"type":"text","align":"right","baseline":"middle","fontSize":12},"encoding":{"x":{"datum":18.95,"type":"quantitative","axis":{"title":null}},"text":{"field":"close"},"color":{"field":"series","type":"nominal","legend":null}}},
  {"mark":{"type":"text","align":"left","baseline":"middle","fontSize":12},"encoding":{"x":{"datum":19.56,"type":"quantitative","axis":{"title":null}},"text":{"field":"change"},"color":{"field":"dir","type":"nominal","legend":null}}},
  {"mark":{"type":"text","align":"left","baseline":"middle","fontSize":12},"encoding":{"x":{"datum":21.87,"type":"quantitative","axis":{"title":null}},"text":{"field":"pct"},"color":{"field":"dir","type":"nominal","legend":null}}}
 ]},
{"data":{"values":[{}]},"mark":{"type":"text","align":"right","baseline":"middle","fontSize":12,"color":"#dfe6ea"},
 "encoding":{"x":{"datum":-0.71,"type":"quantitative","axis":{"title":null}},"y":{"datum":1820.12,"type":"quantitative","axis":{"title":null}},"text":{"value":"NY Time"}}},
{"data":{"values":[{}]},"mark":{"type":"text","align":"left","baseline":"middle","fontSize":12,"color":"#dfe6ea"},
 "encoding":{"x":{"datum":6.69,"type":"quantitative","axis":{"title":null}},"y":{"datum":1817.9,"type":"quantitative","axis":{"title":null}},"text":{"value":"Dec 06, 2020 at 22:26 NY Time"}}},
{"data":{"values":[{}]},"mark":{"type":"text","align":"right","baseline":"middle","fontSize":12,"color":"#dfe6ea"},
 "encoding":{"x":{"datum":23.88,"type":"quantitative","axis":{"title":null}},"y":{"datum":1817.9,"type":"quantitative","axis":{"title":null}},"text":{"value":"goldprice.org (mid)"}}}
]
}
